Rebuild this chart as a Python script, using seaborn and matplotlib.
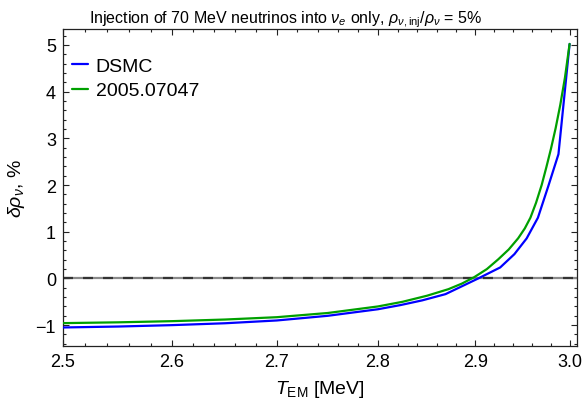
import numpy as np
import pandas as pd
import matplotlib
matplotlib.use("Agg")
import matplotlib.pyplot as plt
import matplotlib.ticker as mticker
import seaborn as sns

# ---- data ----
T_dsmc = [2.5, 2.55, 2.6, 2.65, 2.7, 2.75, 2.8, 2.823, 2.845, 2.869, 2.903,
          2.926, 2.941, 2.954, 2.966, 2.977, 2.988, 3.0]
v_dsmc = [-1.05, -1.03, -1.00, -0.96, -0.90, -0.80, -0.66, -0.57, -0.47, -0.336,
          0.0, 0.235, 0.52, 0.857, 1.30, 1.97, 2.66, 5.02]

T_ref = [2.5, 2.55, 2.6, 2.65, 2.7, 2.75, 2.8, 2.825, 2.85, 2.872, 2.886, 2.899,
         2.912, 2.924, 2.935, 2.945, 2.952, 2.958, 2.964, 2.970, 2.975, 2.980,
         2.985, 2.990, 2.995, 3.0]
v_ref = [-0.957, -0.94, -0.915, -0.88, -0.83, -0.74, -0.60, -0.50, -0.37, -0.23,
         -0.11, 0.03, 0.20, 0.41, 0.62, 0.86, 1.07, 1.30, 1.62, 2.00, 2.38, 2.78,
         3.22, 3.72, 4.30, 5.02]

series_names = ["DSMC", "2005.07047"]
x_ticks = [2.5, 2.6, 2.7, 2.8, 2.9, 3.0]
x_tick_labels = ["2.5", "2.6", "2.7", "2.8", "2.9", "3.0"]
y_ticks = [-1, 0, 1, 2, 3, 4, 5]

df = pd.concat([
    pd.DataFrame({"T": T_dsmc, "v": v_dsmc, "src": series_names[0]}),
    pd.DataFrame({"T": T_ref, "v": v_ref, "src": series_names[1]}),
])

sns.set_theme(style="ticks")
plt.rcParams["font.family"] = ["Liberation Sans", "DejaVu Sans"]
plt.rcParams["mathtext.fontset"] = "custom"
plt.rcParams["mathtext.rm"] = "Liberation Sans"
plt.rcParams["mathtext.it"] = "Liberation Sans:italic"
plt.rcParams["mathtext.bf"] = "Liberation Sans:bold"
for k in ["text.color", "axes.labelcolor", "xtick.color", "ytick.color"]:
    plt.rcParams[k] = "black"

fig = plt.figure(figsize=(5.83, 4.02), dpi=100)
ax = fig.add_axes([0.1081, 0.1376, 0.9897 - 0.1081, 0.9254 - 0.1376])

# zero reference line (gray base + dark dashes)
ax.axhline(0, color="#8a8a8a", lw=1.6, zorder=1)
ax.axhline(0, color="#333333", lw=1.6, dashes=(4.5, 4.5), zorder=1.1)

sns.lineplot(data=df, x="T", y="v", hue="src", palette=["#0000ff", "#00a000"],
             lw=1.6, ax=ax, sort=False, estimator=None, zorder=3)

ax.set_xscale("log")
ax.set_xlim(2.5, 3.008)
ax.set_ylim(-1.44, 5.34)
ax.xaxis.set_major_locator(mticker.FixedLocator(x_ticks))
ax.xaxis.set_major_formatter(mticker.FixedFormatter(x_tick_labels))
ax.xaxis.set_minor_locator(mticker.FixedLocator(np.arange(2.5, 3.001, 0.02)))
ax.xaxis.set_minor_formatter(mticker.NullFormatter())
ax.yaxis.set_major_locator(mticker.FixedLocator(y_ticks))
ax.yaxis.set_minor_locator(mticker.MultipleLocator(0.2))

ax.tick_params(which="both", direction="in", top=True, right=True,
               color="#222222", width=0.8)
ax.tick_params(which="major", length=4.0, labelsize=13, pad=5)
ax.tick_params(which="minor", length=2.2)
for s in ax.spines.values():
    s.set_color("#222222")
    s.set_linewidth(0.9)

ax.set_xlabel(r"$T_{\mathrm{EM}}$ [MeV]", fontsize=14, labelpad=6)
ax.set_ylabel(r"$\delta\rho_\nu$, %", fontsize=14, labelpad=6)
ax.set_title(r"Injection of 70 MeV neutrinos into $\nu_e$ only, "
             r"$\rho_{\nu,\mathrm{inj}}/\rho_\nu$ = 5%", fontsize=11.5, pad=5,
             x=0.434)

leg = ax.legend(loc="upper left", frameon=False, fontsize=14, handlelength=0.85,
                handletextpad=0.38, labelspacing=0.35, borderaxespad=0.0,
                bbox_to_anchor=(0.002, 0.935))
for h in leg.get_lines():
    h.set_linewidth(1.6)

fig.savefig("out.png", dpi=100)
